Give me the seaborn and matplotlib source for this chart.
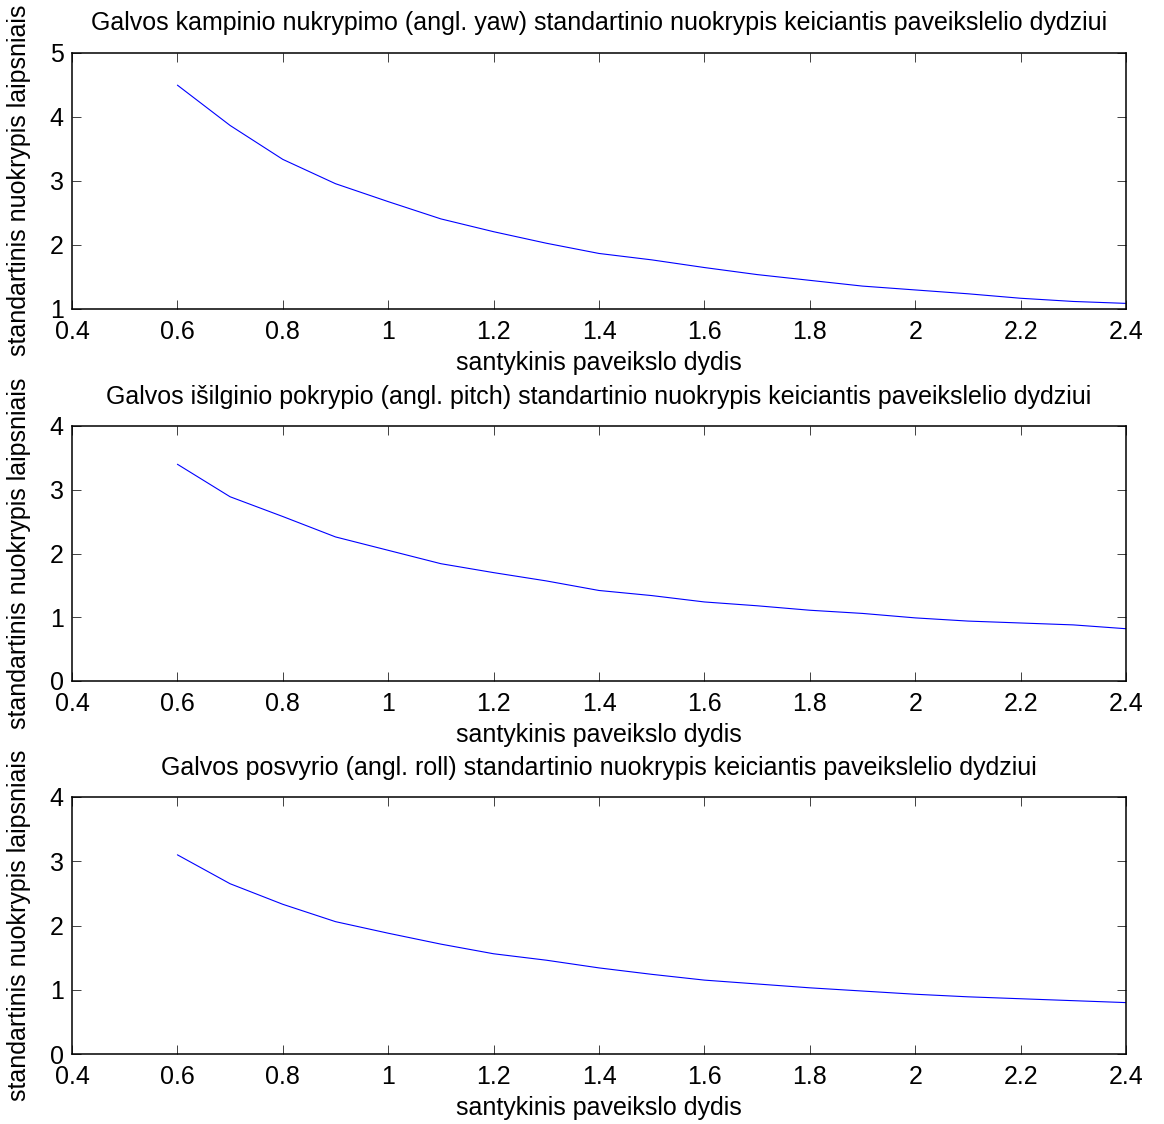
import numpy as np
import pandas as pd
import matplotlib
matplotlib.use("Agg")
import matplotlib.pyplot as plt
import seaborn as sns

# ---- data ----
size_ratio = [0.6, 0.7, 0.8, 0.9, 1.0, 1.1, 1.2, 1.3, 1.4, 1.5,
              1.6, 1.7, 1.8, 1.9, 2.0, 2.1, 2.2, 2.3, 2.4]
yaw_std = [4.49, 3.86, 3.33, 2.95, 2.67, 2.40, 2.20, 2.02, 1.86, 1.76,
           1.64, 1.53, 1.44, 1.35, 1.29, 1.23, 1.16, 1.11, 1.08]
pitch_std = [3.40, 2.89, 2.58, 2.26, 2.05, 1.84, 1.70, 1.57, 1.42, 1.34,
             1.24, 1.18, 1.11, 1.06, 0.99, 0.94, 0.91, 0.88, 0.82]
roll_std = [3.10, 2.65, 2.33, 2.06, 1.88, 1.71, 1.56, 1.46, 1.34, 1.24,
            1.15, 1.09, 1.03, 0.98, 0.93, 0.89, 0.86, 0.83, 0.80]

titles = [
    "Galvos kampinio nukrypimo (angl. yaw) standartinio nuokrypis keiciantis paveikslelio dydziui",
    "Galvos išilginio pokrypio (angl. pitch) standartinio nuokrypis keiciantis paveikslelio dydziui",
    "Galvos posvyrio (angl. roll) standartinio nuokrypis keiciantis paveikslelio dydziui",
]
xlabel = "santykinis paveikslo dydis"
ylabel = "standartinis nuokrypis laipsniais"
xticks = [0.4, 0.6, 0.8, 1.0, 1.2, 1.4, 1.6, 1.8, 2.0, 2.2, 2.4]
xtick_labels = ["0.4", "0.6", "0.8", "1", "1.2", "1.4", "1.6", "1.8", "2", "2.2", "2.4"]
ylims = [(1, 5), (0, 4), (0, 4)]
yticks_list = [[1, 2, 3, 4, 5], [0, 1, 2, 3, 4], [0, 1, 2, 3, 4]]

# ---- style ----
sns.set_theme(style="ticks")
plt.rcParams["font.family"] = ["Liberation Sans", "DejaVu Sans"]
plt.rcParams.update({
    "xtick.direction": "in",
    "ytick.direction": "in",
    "xtick.top": True,
    "ytick.right": True,
    "axes.linewidth": 1.1,
    "axes.edgecolor": "black",
})

FS = 18
W, H = 1164, 1124
fig = plt.figure(figsize=(W / 100, H / 100), dpi=100)

# axes boxes in pixels: (left, top, right, bottom)
boxes = [(72, 52.5, 1126, 308.5), (72, 426, 1126, 681), (72, 797, 1126, 1054)]
series = [yaw_std, pitch_std, roll_std]

for box, ys, title, ylim, yt in zip(boxes, series, titles, ylims, yticks_list):
    l, t, r, b = box
    ax = fig.add_axes([l / W, 1 - b / H, (r - l) / W, (b - t) / H])
    df = pd.DataFrame({"x": size_ratio, "y": ys})
    sns.lineplot(data=df, x="x", y="y", ax=ax, color="#0000FF", linewidth=0.8)
    ax.set_xlim(0.4, 2.4)
    ax.set_ylim(*ylim)
    ax.set_xticks(xticks)
    ax.set_xticklabels(xtick_labels)
    ax.set_yticks(yt)
    ax.set_yticklabels([str(v) for v in yt])
    ax.tick_params(axis="both", which="both", length=6.5, width=0.6,
                   color="#222222", labelcolor="black", labelsize=FS)
    ax.tick_params(axis="x", pad=8)
    ax.tick_params(axis="y", pad=6)
    ax.set_title(title, fontsize=FS, pad=16, color="black")
    ax.set_xlabel(xlabel, fontsize=FS, labelpad=5, color="black")
    ax.set_ylabel(ylabel, fontsize=FS, color="black")
    ax.yaxis.set_label_coords(-0.039, 0.5)
    for s in ax.spines.values():
        s.set_visible(True)
        s.set_color("black")

fig.savefig("out.png", dpi=100, facecolor="white")
